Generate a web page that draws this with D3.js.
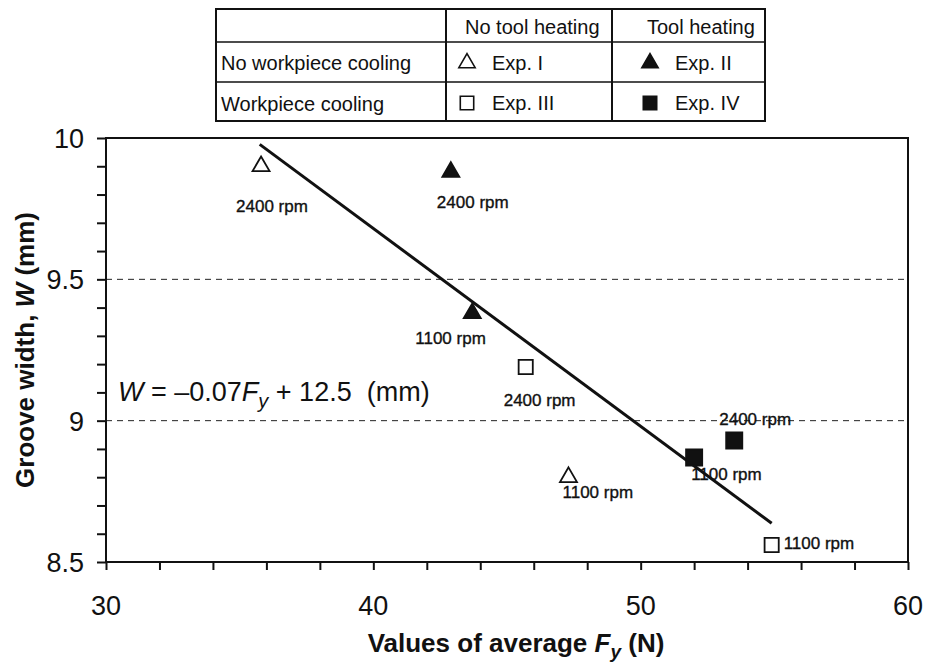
<!DOCTYPE html>
<html>
<head>
<meta charset="utf-8">
<script src="https://cdn.jsdelivr.net/npm/d3@7"></script>
<style>
  body { margin: 0; background: #fff; }
  text { font-family: "Liberation Sans", Arial, sans-serif; fill: #111; }
</style>
</head>
<body>
<div id="chart"></div>
<script>
// data
const expNames = ["Exp. I", "Exp. II", "Exp. III", "Exp. IV"];
const expIForce = [35.8, 47.3];
const expIWidth = [9.90, 8.80];
const expIIForce = [42.9, 43.7];
const expIIWidth = [9.88, 9.38];
const expIIIForce = [45.7, 54.9];
const expIIIWidth = [9.19, 8.56];
const expIVForce = [53.5, 52.0];
const expIVWidth = [8.93, 8.87];
const speeds = ["2400 rpm", "1100 rpm"];

// fitted line W = -0.07 Fy + 12.5
const fitSlope = -0.07;
const fitIntercept = 12.48;
const fitRange = [35.75, 54.9];

const xTicks = [30, 40, 50, 60];
const yTicks = [8.5, 9, 9.5, 10];
const refLines = [9, 9.5];

// layout
let W = 926, H = 664;
let m = {top: 138, right: 18, bottom: 102, left: 106};
let w = W - m.left - m.right;
let h = H - m.top - m.bottom;

let svg = d3.select("#chart").append("svg")
    .attr("width", W).attr("height", H);
svg.append("rect").attr("width", W).attr("height", H).attr("fill", "#fff");

let g = svg.append("g").attr("transform", "translate(" + m.left + "," + m.top + ")");

let x = d3.scaleLinear().domain([30, 60]).range([0, w]);
let y = d3.scaleLinear().domain([8.5, 10]).range([h, 0]);

// dashed reference lines
g.selectAll(".ref").data(refLines).enter().append("line")
    .attr("x1", 0).attr("x2", w)
    .attr("y1", d => y(d)).attr("y2", d => y(d))
    .attr("stroke", "#222").attr("stroke-width", 1)
    .attr("stroke-dasharray", "6,5");

// axes (minor ticks every 2 N and every 0.1 mm)
let xAxis = g.append("g").attr("transform", "translate(0," + h + ")")
    .call(d3.axisBottom(x).tickValues(d3.range(30, 60.1, 2)).tickSize(8).tickFormat(""));
let yAxis = g.append("g")
    .call(d3.axisLeft(y).tickValues(d3.range(85, 100.1, 1).map(v => v / 10)).tickSize(9).tickFormat(""));
[xAxis, yAxis].forEach(a => {
    a.select(".domain").remove();
    a.selectAll(".tick line").attr("stroke", "#111").attr("stroke-width", 2);
});

// frame
g.append("rect").attr("width", w).attr("height", h)
    .attr("fill", "none").attr("stroke", "#111").attr("stroke-width", 2);

// tick labels
g.selectAll(".xl").data(xTicks).enter().append("text")
    .attr("x", d => x(d)).attr("y", h + 53)
    .attr("text-anchor", "middle").attr("font-size", 27)
    .text(d => d);
g.selectAll(".yl").data(yTicks).enter().append("text")
    .attr("x", -22).attr("y", d => y(d) + 10)
    .attr("text-anchor", "end").attr("font-size", 27)
    .text(d => d);

// axis titles
let xt = svg.append("text")
    .attr("x", 516).attr("y", 652)
    .attr("text-anchor", "middle").attr("font-size", 26).attr("font-weight", "bold");
xt.append("tspan").text("Values of average ");
xt.append("tspan").attr("font-style", "italic").text("F");
xt.append("tspan").attr("font-style", "italic").attr("font-size", 19).attr("dy", 6).text("y");
xt.append("tspan").attr("dy", -6).text("\u00a0(N)");

let yt = svg.append("text")
    .attr("transform", "translate(34,350) rotate(-90)")
    .attr("text-anchor", "middle").attr("font-size", 26).attr("font-weight", "bold");
yt.append("tspan").text("Groove width, ");
yt.append("tspan").attr("font-style", "italic").text("W");
yt.append("tspan").text("\u00a0(mm)");

// regression line
let line = d3.line().x(d => x(d)).y(d => y(fitSlope * d + fitIntercept));
g.append("path").datum(fitRange)
    .attr("d", line)
    .attr("fill", "none").attr("stroke", "#111").attr("stroke-width", 3);

// equation
let eq = g.append("text").attr("x", x(30.45)).attr("y", y(9.07)).attr("font-size", 27);
eq.append("tspan").attr("font-style", "italic").text("W");
eq.append("tspan").text(" = \u20130.07");
eq.append("tspan").attr("font-style", "italic").text("F");
eq.append("tspan").attr("font-style", "italic").attr("font-size", 20).attr("dy", 7).text("y");
eq.append("tspan").attr("dy", -7).text(" + 12.5\u00a0\u00a0(mm)");

// markers
const triSize = 125, sqOpen = 200, sqFill = 260;
let series = [
    {f: expIForce, w: expIWidth, shape: d3.symbolTriangle, size: triSize, fill: "#fff",
        off: [[-25, 46], [-6, 21]]},
    {f: expIIForce, w: expIIWidth, shape: d3.symbolTriangle, size: triSize, fill: "#111",
        off: [[-14, 36], [-57, 31]]},
    {f: expIIIForce, w: expIIIWidth, shape: d3.symbolSquare, size: sqOpen, fill: "#fff",
        off: [[-22, 39], [12, 4]]},
    {f: expIVForce, w: expIVWidth, shape: d3.symbolSquare, size: sqFill, fill: "#111",
        off: [[-15, -15], [-3, 23]]}
];

series.forEach(s => {
    let pts = s.f.map((f, i) => ({f: f, w: s.w[i], lab: speeds[i], off: s.off[i]}));
    g.selectAll(null).data(pts).enter().append("path")
        .attr("transform", d => "translate(" + x(d.f) + "," + y(d.w) + ")")
        .attr("d", d3.symbol().type(s.shape).size(s.size))
        .attr("fill", s.fill).attr("stroke", "#111").attr("stroke-width", 1.8);
    g.selectAll(null).data(pts).enter().append("text")
        .attr("x", d => x(d.f) + d.off[0]).attr("y", d => y(d.w) + d.off[1])
        .attr("font-size", 17).attr("stroke", "#111").attr("stroke-width", 0.35)
        .text(d => d.lab);
});

// legend table
let tb = svg.append("g");
let cols = [216, 446, 612, 765];
let rows = [9, 42, 82, 121];
tb.append("rect").attr("x", cols[0]).attr("y", rows[0])
    .attr("width", cols[3] - cols[0]).attr("height", rows[3] - rows[0])
    .attr("fill", "none").attr("stroke", "#111").attr("stroke-width", 2);
[cols[1], cols[2]].forEach(c => tb.append("line")
    .attr("x1", c).attr("x2", c).attr("y1", rows[0]).attr("y2", rows[3])
    .attr("stroke", "#111").attr("stroke-width", 2));
[rows[1], rows[2]].forEach(r => tb.append("line")
    .attr("x1", cols[0]).attr("x2", cols[3]).attr("y1", r).attr("y2", r)
    .attr("stroke", "#111").attr("stroke-width", 1.5));

const tableHead = ["No tool heating", "Tool heating"];
const tableRows = ["No workpiece cooling", "Workpiece cooling"];
tb.selectAll(null).data(tableHead).enter().append("text")
    .attr("x", (d, i) => [465, 647][i]).attr("y", 34)
    .attr("font-size", 20).text(d => d);
tb.selectAll(null).data(tableRows).enter().append("text")
    .attr("x", 221).attr("y", (d, i) => [70, 111][i])
    .attr("font-size", 20).text(d => d);

let legendItems = series.map((s, i) => ({name: expNames[i], shape: s.shape, fill: s.fill,
    size: s.shape === d3.symbolTriangle ? 115 : 180,
    col: i % 2, row: Math.floor(i / 2)}));
legendItems.forEach(d => {
    let cx = [467, 650][d.col], cy = [63, 103][d.row];
    tb.append("path")
        .attr("transform", "translate(" + cx + "," + cy + ")")
        .attr("d", d3.symbol().type(d.shape).size(d.size))
        .attr("fill", d.fill).attr("stroke", "#111").attr("stroke-width", 1.6);
    tb.append("text").attr("x", cx + 25).attr("y", cy + 7)
        .attr("font-size", 20).text(d.name);
});
</script>
</body>
</html>
